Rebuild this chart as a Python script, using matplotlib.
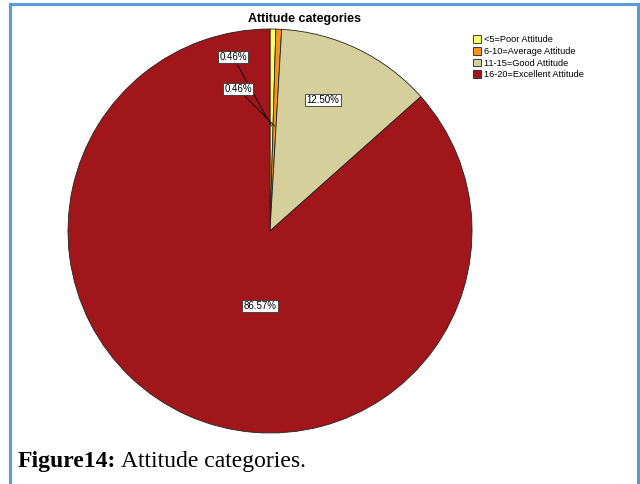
import numpy as np
import matplotlib.pyplot as plt
from matplotlib.lines import Line2D

# attitude category shares (%)
categories = ['<5=Poor Attitude', '6-10=Average Attitude',
              '11-15=Good Attitude', '16-20=Excellent Attitude']
values = [0.46, 0.46, 12.50, 86.57]
colors = ['#FFFF66', '#F7941D', '#D4CF9B', '#A0161B']
label_text = ['0.46%', '0.46%', '12.50%', '86.57%']

W, H = 640, 484
fig = plt.figure(figsize=(6.4, 4.84), dpi=100)
ax = fig.add_axes([0, 0, 1, 1])

cx, cy, r = 270, H - 231, 202
wedges, _ = ax.pie(values, colors=colors, startangle=90, counterclock=False,
                   center=(cx, cy), radius=r,
                   wedgeprops=dict(edgecolor='#222222', linewidth=0.6))
ax.set_xlim(0, W)
ax.set_ylim(0, H)
ax.set_aspect('auto')
ax.axis('off')

box = dict(boxstyle='square,pad=0.15', fc='white', ec='#333333', lw=0.6)
# label positions (pixels from top-left)
label_pos = [(233, 57), (238, 89), (323, 100), (260, 306)]
for i, (w, t) in enumerate(zip(wedges, label_text)):
    lx, ly = label_pos[i]
    if i < 2:
        ang = np.deg2rad((w.theta1 + w.theta2) / 2)
        px, py = cx + 0.52 * r * np.cos(ang), cy + 0.52 * r * np.sin(ang)
        ax.annotate(t, xy=(px, py), xytext=(lx, H - ly), fontsize=7,
                    family='Liberation Sans', ha='center', va='center', bbox=box,
                    arrowprops=dict(arrowstyle='-', color='black', lw=0.6,
                                    shrinkA=0, shrinkB=0))
    else:
        ax.text(lx, H - ly, t, fontsize=7, family='Liberation Sans',
                ha='center', va='center', bbox=box)

ax.text(305, H - 19, 'Attitude categories', fontsize=9, fontweight='bold',
        family='Liberation Sans', ha='center', va='center')

leg = ax.legend(wedges, categories, loc='upper left', bbox_to_anchor=(0.733, 0.935),
                frameon=False, handlelength=0.9, handleheight=0.9,
                handletextpad=0.3, labelspacing=0.3, borderaxespad=0,
                prop={'family': 'Liberation Sans', 'size': 6.6})

# caption
t1 = fig.text(18 / W, 1 - 462 / H, 'Figure14:', fontsize=17, fontweight='bold',
              family='Liberation Serif', va='center')
fig.canvas.draw()
bb = t1.get_window_extent()
fig.text((bb.x1 + 5) / W, 1 - 462 / H, 'Attitude categories.', fontsize=17,
         family='Liberation Serif', va='center')

# blue frame
fc = '#5B9BD5'
fig.add_artist(Line2D([9.5 / W, 9.5 / W], [0, 1 - 4 / H], color=fc, lw=2.2))
fig.add_artist(Line2D([637.5 / W, 637.5 / W], [0, 1 - 4 / H], color=fc, lw=2.2))
fig.add_artist(Line2D([9.5 / W, 637.5 / W], [1 - 4 / H, 1 - 4 / H], color=fc, lw=2.2))

fig.savefig('out.png', dpi=100)
